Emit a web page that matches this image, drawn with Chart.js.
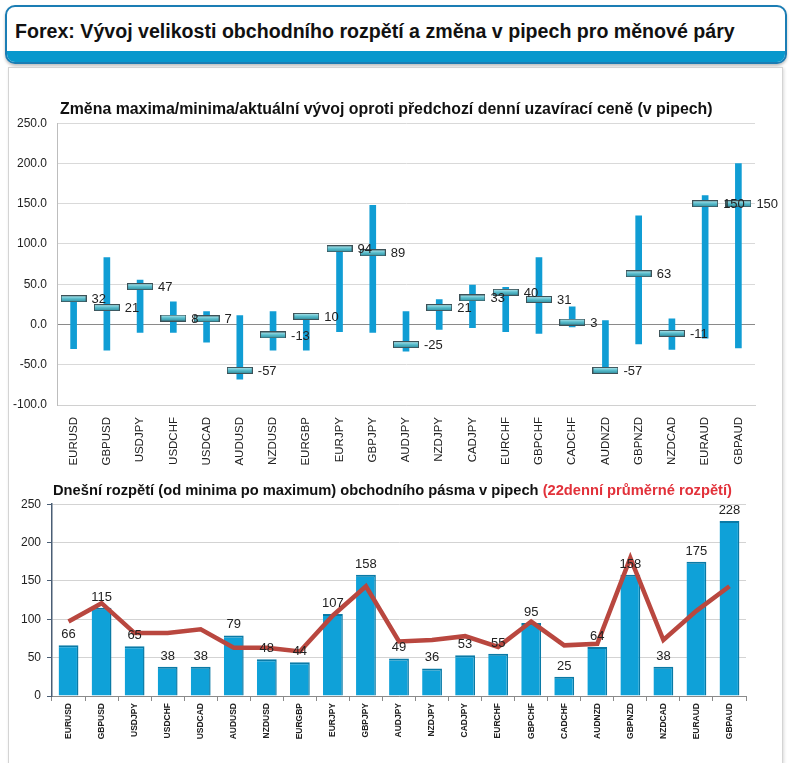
<!DOCTYPE html>
<html>
<head>
<meta charset="utf-8">
<script src="https://cdn.jsdelivr.net/npm/chart.js@4.4.1/dist/chart.umd.min.js"></script>
<style>
  body { margin: 0; width: 792px; height: 763px; background: #fff; position: relative; overflow: hidden; font-family: "Liberation Sans", Arial, sans-serif; }
  #hlava { position: absolute; left: 5px; top: 5px; width: 778px; height: 55px; border: 2px solid #1b7db4; border-radius: 10px; overflow: hidden; background: #fff; box-shadow: 0 2px 3px rgba(0,0,0,0.25); }
  #hlava .pas { position: absolute; left: 0; right: 0; bottom: 0; height: 11px; background: #0898cd; }
  #hlava h1 { position: absolute; left: 8px; top: 13px; margin: 0; font-size: 19.6px; font-weight: bold; color: #111; white-space: nowrap; }
  #panel { position: absolute; left: 8px; top: 67px; width: 773px; height: 710px; border: 1px solid #d4d4d4; box-shadow: 1px 1px 3px rgba(0,0,0,0.15); }
  .nadpis { position: absolute; font-weight: bold; color: #111; white-space: nowrap; }
  .nadpis span { color: #e2313a; }
  canvas { position: absolute; left: 0; }
</style>
</head>
<body>
<div id="hlava"><h1>Forex: Vývoj velikosti obchodního rozpětí a změna v pipech pro měnové páry</h1><div class="pas"></div></div>
<div id="panel"></div>
<canvas id="grafZmena" width="792" height="361" style="top:106px"></canvas>
<canvas id="grafRozpeti" width="792" height="273" style="top:491px"></canvas>
<div class="nadpis" style="left:60px; top:100px; font-size:15.9px;">Změna maxima/minima/aktuální vývoj oproti předchozí denní uzavírací ceně (v pipech)</div>
<div class="nadpis" style="left:53px; top:482px; font-size:14.7px;">Dnešní rozpětí (od minima po maximum) obchodního pásma v pipech <span>(22denní průměrné rozpětí)</span></div>
<script>
const pary = ['EURUSD', 'GBPUSD', 'USDJPY', 'USDCHF', 'USDCAD', 'AUDUSD', 'NZDUSD', 'EURGBP', 'EURJPY', 'GBPJPY', 'AUDJPY',
  'NZDJPY', 'CADJPY', 'EURCHF', 'GBPCHF', 'CADCHF', 'AUDNZD', 'GBPNZD', 'NZDCAD', 'EURAUD', 'GBPAUD'];

// horni graf: maximum, minimum a aktualni zmena v pipech
const maxima = [36, 83, 55, 28, 16, 11, 16, 11, 98, 148, 16, 31, 49, 46, 83, 22, 5, 135, 7, 160, 200];
const minima = [-30, -32, -10, -10, -22, -68, -32, -32, -9, -10, -33, -6, -4, -9, -11, -3, -57, -24, -31, -17, -29];
const aktualni = [32, 21, 47, 8, 7, -57, -13, 10, 94, 89, -25, 21, 33, 40, 31, 3, -57, 63, -11, 150, 150];

// dolni graf: dnesni rozpeti a 22denni prumer
const rozpeti = [66, 115, 65, 38, 38, 79, 48, 44, 107, 158, 49, 36, 53, 55, 95, 25, 64, 158, 38, 175, 228];
const prumer22 = [97, 121, 82, 82, 87, 63, 63, 58, 105, 143, 71, 73, 78, 64, 97, 66, 68, 180, 73, 111, 143];

const tickyZmena = [-100, -50, 0, 50, 100, 150, 200, 250];

// znacka pro aktualni hodnotu
function vytvorZnacku() {
    const c = document.createElement('canvas');
    c.width = 26; c.height = 7;
    const g = c.getContext('2d');
    const grad = g.createLinearGradient(0, 0, 0, 7);
    grad.addColorStop(0, '#c8eef2');
    grad.addColorStop(0.45, '#5cc0cf');
    grad.addColorStop(1, '#2b8a9c');
    g.fillStyle = grad;
    g.fillRect(0.5, 0.5, 25, 6);
    g.strokeStyle = '#3d5157';
    g.lineWidth = 1;
    g.strokeRect(0.5, 0.5, 25, 6);
    return c;
}
const znacka = vytvorZnacku();

// popisky hodnot (misto pluginu datalabels)
const popisky = {
    id: 'popisky',
    afterDatasetsDraw(chart, args, opts) {
        const ctx = chart.ctx;
        const meta = chart.getDatasetMeta(opts.dataset);
        const data = chart.data.datasets[opts.dataset].data;
        ctx.save();
        ctx.font = opts.font;
        ctx.fillStyle = '#222';
        meta.data.forEach((el, i) => {
            if (opts.mode === 'right') {
                ctx.textAlign = 'left';
                ctx.textBaseline = 'middle';
                ctx.fillText(data[i], el.x + 18, el.y + 1);
            } else {
                ctx.textAlign = 'center';
                ctx.textBaseline = 'bottom';
                ctx.fillText(data[i], el.x, el.y - 4);
            }
        });
        ctx.restore();
    }
};

new Chart(document.getElementById('grafZmena').getContext('2d'), {
    type: 'bar',
    data: {
        labels: pary,
        datasets: [
            {
                type: 'line',
                label: 'Aktuální',
                data: aktualni,
                showLine: false,
                pointStyle: znacka,
                order: 0,
            },
            {
                label: 'Max/Min',
                data: minima.map((v, i) => [v, maxima[i]]),
                backgroundColor: '#109dd4',
                barThickness: 6,
                grouped: false,
                order: 1,
            },
        ],
    },
    options: {
        responsive: false,
        animation: false,
        layout: { padding: { top: 0, right: 37, left: 0, bottom: 0 } },
        plugins: {
            legend: { display: false },
            tooltip: { enabled: false },
            popisky: { dataset: 0, mode: 'right', font: '13px "Liberation Sans", Arial, sans-serif' },
        },
        scales: {
            x: {
                grid: { display: false },
                border: { color: '#d0d0d0' },
                ticks: { color: '#222', font: { family: '"Liberation Sans", Arial', size: 11.5 }, minRotation: 90, maxRotation: 90, autoSkip: false, padding: 4 },
                afterFit: s => { s.height = 62; },
            },
            y: {
                min: -100,
                max: 250,
                afterBuildTicks: s => { s.ticks = tickyZmena.map(v => ({ value: v })); },
                grid: {
                    drawTicks: false,
                    color: ctx => ctx.tick && ctx.tick.value === 0 ? '#8a8a8a' : '#d9d9d9',
                },
                border: { color: '#bdbdbd' },
                ticks: { color: '#222', font: { family: '"Liberation Sans", Arial', size: 12 }, padding: 10, callback: v => v.toFixed(1) },
                afterFit: s => { s.width = 57; },
            },
        },
    },
    plugins: [popisky],
});

new Chart(document.getElementById('grafRozpeti').getContext('2d'), {
    type: 'bar',
    data: {
        labels: pary,
        datasets: [
            {
                type: 'line',
                label: '22denní průměrné rozpětí',
                data: prumer22,
                borderColor: '#b9473f',
                borderWidth: 4.5,
                pointRadius: 0,
                tension: 0,
                order: 0,
            },
            {
                label: 'Dnešní rozpětí',
                data: rozpeti,
                backgroundColor: '#0fa1d8',
                borderColor: '#0a7aa6',
                borderWidth: { left: 0, right: 1.5, top: 2, bottom: 0 },
                categoryPercentage: 1,
                barPercentage: 0.6,
                order: 1,
            },
        ],
    },
    options: {
        responsive: false,
        animation: false,
        layout: { padding: { top: 0, right: 46, left: 0, bottom: 0 } },
        plugins: {
            legend: { display: false },
            tooltip: { enabled: false },
            popisky: { dataset: 1, mode: 'top', font: '13px "Liberation Sans", Arial, sans-serif' },
        },
        scales: {
            x: {
                grid: { display: true, drawOnChartArea: false, offset: true, tickLength: 5, tickColor: '#8a8a8a' },
                border: { color: '#8a8a8a' },
                ticks: { color: '#222', font: { family: '"Liberation Sans", Arial', size: 8.5, weight: 'bold' }, minRotation: 90, maxRotation: 90, autoSkip: false, padding: 2 },
                afterFit: s => { s.height = 68; },
            },
            y: {
                min: 0,
                max: 250,
                ticks: { stepSize: 50, color: '#222', font: { family: '"Liberation Sans", Arial', size: 12 }, padding: 6 },
                grid: { color: '#d3d3d3', tickLength: 5, tickColor: '#4a5e75' },
                border: { color: '#4a5e75', width: 1.5 },
                afterFit: s => { s.width = 52; },
            },
        },
    },
    plugins: [popisky],
});
</script>
</body>
</html>
